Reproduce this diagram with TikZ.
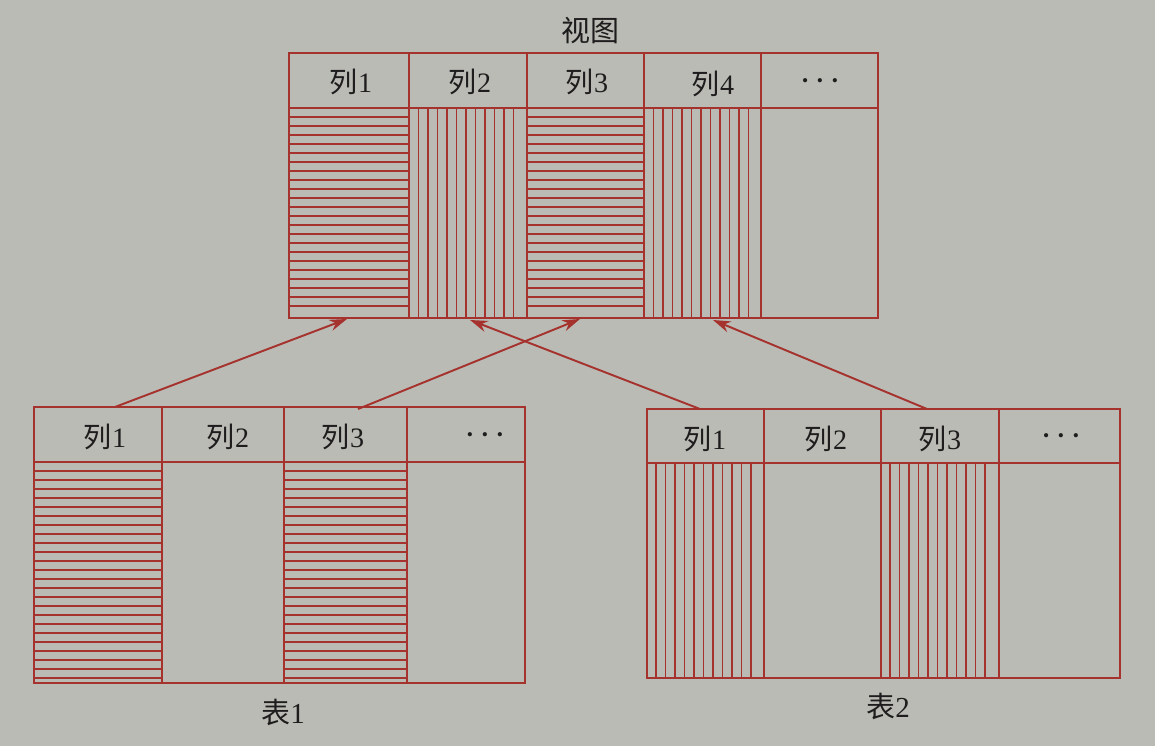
\documentclass[tikz,border=0pt]{standalone}
\usepackage{fontspec}
\setmainfont{Liberation Serif}
\newfontfamily\cjk{Noto Sans CJK SC}
\usetikzlibrary{arrows.meta}
\definecolor{rl}{RGB}{166,50,46}
\definecolor{bgc}{RGB}{186,187,181}
\definecolor{txt}{RGB}{30,28,28}
\newcommand{\dotsrow}{{\fontsize{10}{10}\selectfont\textbullet\hspace{5pt}\textbullet\hspace{5pt}\textbullet}}
\begin{document}
\begin{tikzpicture}[x=0.02cm,y=-0.02cm,
  frame/.style={draw=rl, line width=1.6pt},
  hatch/.style={draw=rl, line width=0.9pt},
  hd/.style={font=\fontsize{16}{18}\selectfont, text=txt, inner sep=0pt},
  lbl/.style={font=\fontsize{16.5}{18}\selectfont, text=txt, inner sep=0pt},
  conn/.style={draw=rl, line width=1.1pt, -{Stealth[length=10pt,width=6.5pt]}}]
\fill[bgc] (0,0) rectangle (1155,746);
\useasboundingbox (0,0) rectangle (1155,746);

% ---------- hatching ----------
% view
\foreach \y in {117,126,...,312} \draw[hatch] (289,\y) -- (409,\y);
\foreach \x in {418.5,428,...,520} \draw[hatch] (\x,108) -- (\x,318);
\foreach \y in {117,126,...,312} \draw[hatch] (527,\y) -- (644,\y);
\foreach \x in {653.5,663,...,755} \draw[hatch] (\x,108) -- (\x,318);
% table 1
\foreach \y in {471,480,...,678} \draw[hatch] (34,\y) -- (162,\y);
\foreach \y in {471,480,...,678} \draw[hatch] (284,\y) -- (407,\y);
% table 2
\foreach \x in {656,665.5,...,758} \draw[hatch] (\x,463) -- (\x,678);
\foreach \x in {890,899.5,...,993} \draw[hatch] (\x,463) -- (\x,678);

% ---------- frames ----------
\draw[frame] (289,53) rectangle (878,318);
\draw[frame] (289,108) -- (878,108);
\foreach \x in {409,527,644,761} \draw[frame] (\x,53) -- (\x,318);

\draw[frame] (34,407) rectangle (525,683);
\draw[frame] (34,462) -- (525,462);
\foreach \x in {162,284,407} \draw[frame] (\x,407) -- (\x,683);

\draw[frame] (647,409) rectangle (1120,678);
\draw[frame] (647,463) -- (1120,463);
\foreach \x in {764,881,999} \draw[frame] (\x,409) -- (\x,678);

% ---------- labels ----------
\node[lbl] (vt) at (590,31) {\cjk 视图};
\node[hd] (v1) at (351,82) {{\cjk 列}1};
\node[hd] (v2) at (470,82) {{\cjk 列}2};
\node[hd] (v3) at (587,82) {{\cjk 列}3};
\node[hd] (v4) at (713,84) {{\cjk 列}4};
\node[hd] (v5) at (820,83) {\dotsrow};

\node[hd] (a1) at (105,437) {{\cjk 列}1};
\node[hd] (a2) at (228,437) {{\cjk 列}2};
\node[hd] (a3) at (343,437) {{\cjk 列}3};
\node[hd] (a4) at (485,437) {\dotsrow};
\node[lbl] (t1) at (283,712) {{\cjk 表}1};

\node[hd] (b1) at (705,439) {{\cjk 列}1};
\node[hd] (b2) at (826,439) {{\cjk 列}2};
\node[hd] (b3) at (940,439) {{\cjk 列}3};
\node[hd] (b4) at (1061,438) {\dotsrow};
\node[lbl] (t2) at (888,706) {{\cjk 表}2};

% ---------- connectors ----------
\coordinate (s1) at (115,407);
\coordinate (e1) at (347,319);
\coordinate (s2) at (358,409);
\coordinate (e2) at (580,319);
\coordinate (s3) at (700,409);
\coordinate (e3) at (470,320);
\coordinate (s4) at (927,409);
\coordinate (e4) at (713,320);
\draw[conn] (s1) -- (e1);
\draw[conn] (s2) -- (e2);
\draw[conn] (s3) -- (e3);
\draw[conn] (s4) -- (e4);
\end{tikzpicture}
\end{document}
